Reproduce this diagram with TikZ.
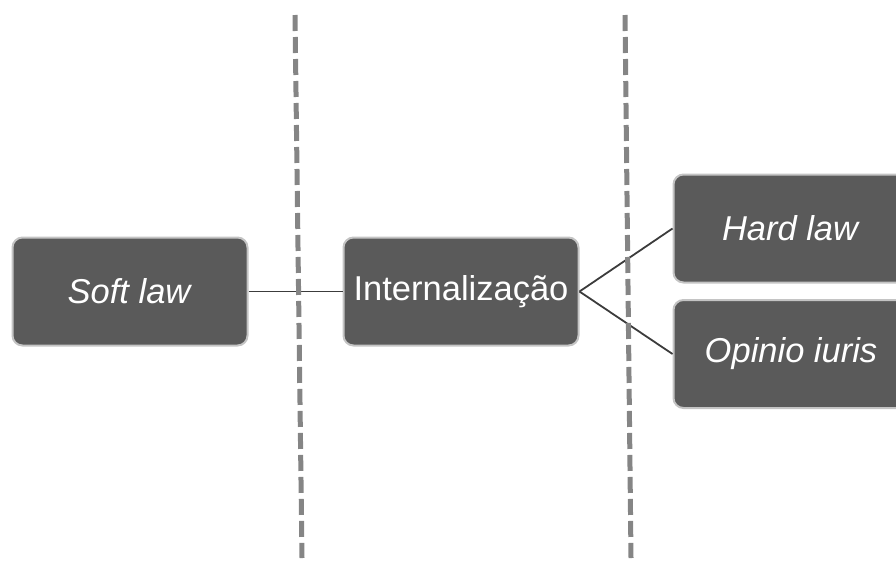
\documentclass[tikz,border=0pt]{standalone}
\usepackage{fontspec}
\setmainfont{Liberation Sans}
\definecolor{boxfill}{HTML}{5A5A5A}
\definecolor{boxedge}{HTML}{C4C4C4}
\definecolor{linkcol}{HTML}{3C3C3C}
\definecolor{sepcol}{HTML}{858585}
\begin{document}
\begin{tikzpicture}[x=1pt,y=-1pt,
  box/.style={draw=boxedge,line width=2pt,fill=boxfill,rounded corners=10pt,
    minimum width=235pt,minimum height=108pt,inner sep=0pt,text=white,
    font=\fontsize{34.5}{40}\selectfont},
  link/.style={draw=linkcol,line width=1.8pt},
  sep/.style={draw=sepcol,line width=5pt,dash pattern=on 16pt off 6pt}]
\useasboundingbox (0,0) rectangle (896,563);
\begin{scope}
\clip (0,0) rectangle (896,563);
\node[box] (soft) at (130,291.5) {\textit{Soft law}};
\node[box] (intl) at (461,291.5) {Internalização};
\node[box] (hard) at (791,228.5) {\textit{Hard law}};
\node[box] (opin) at (791,354) {\textit{Opinio iuris}};
\end{scope}
\draw[link] (soft.east) -- (intl.east -| intl.west);
\draw[link] (intl.east) -- (hard.west);
\draw[link] (intl.east) -- (opin.west);
\coordinate (s1t) at (295,15);
\coordinate (s1b) at (302,558);
\coordinate (s2t) at (625,15);
\coordinate (s2b) at (631,558);
\draw[sep] (s1t) -- (s1b);
\draw[sep] (s2t) -- (s2b);
\end{tikzpicture}
\end{document}
